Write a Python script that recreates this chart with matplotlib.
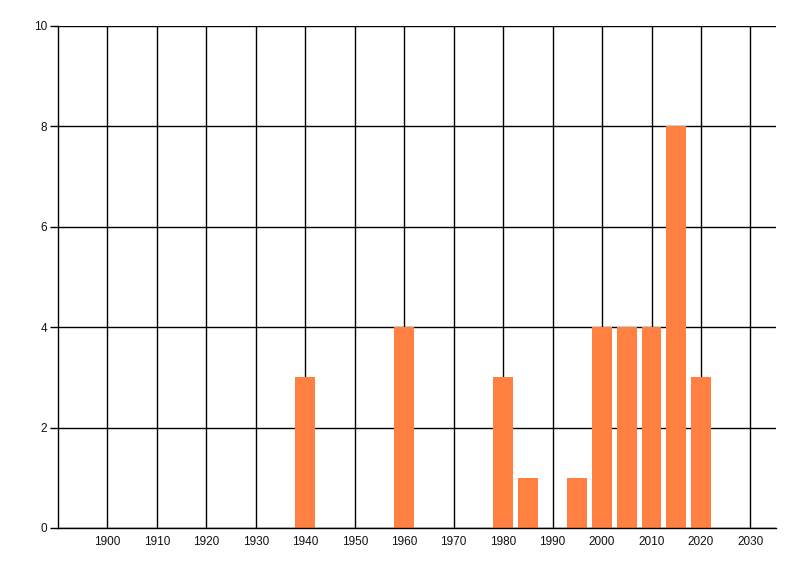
import matplotlib
matplotlib.use("Agg")
import matplotlib.pyplot as plt

years = [1940, 1960, 1980, 1985, 1995, 2000, 2005, 2010, 2015, 2020]
counts = [3, 4, 3, 1, 1, 4, 4, 4, 8, 3]
xticks = list(range(1900, 2031, 10))
yticks = [0, 2, 4, 6, 8, 10]

plt.rcParams['font.family'] = ['Liberation Sans', 'DejaVu Sans']
fig = plt.figure(figsize=(8, 5.76), dpi=100)
ax = fig.add_axes([58/800, 1-528/576, (775.7-58)/800, (528-26)/576])
ax.bar(years, counts, width=4, color='#FF8040', zorder=3)
ax.set_xlim(1890, 2035.1)
ax.set_ylim(0, 10)
ax.set_xticks(xticks)
ax.set_xticklabels([str(t) for t in xticks])
ax.set_yticks(yticks)
ax.set_yticklabels([str(t) for t in yticks])
ax.grid(True, color='black', linewidth=1.0, zorder=0)
ax.set_axisbelow(True)
for s in ['top', 'right']:
    ax.spines[s].set_visible(False)
for s in ['left', 'bottom']:
    ax.spines[s].set_linewidth(1.0)
    ax.spines[s].set_zorder(4)
ax.tick_params(axis='x', length=0, pad=5.5, labelsize=8.5, labelcolor='#111111')
ax.tick_params(axis='y', length=6, width=1.0, pad=2, labelsize=8.5, labelcolor='#111111', direction='out')
fig.savefig('out.png', dpi=100)
